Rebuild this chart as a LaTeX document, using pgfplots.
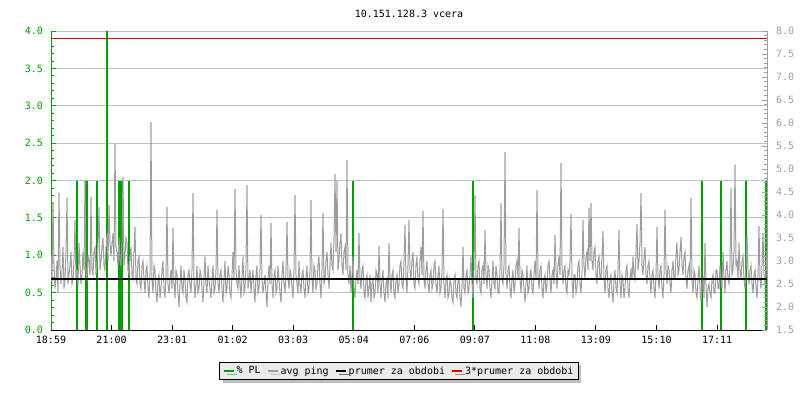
\documentclass[border=0pt]{standalone}
\usepackage{pgfplots}
\usepackage{pgfplotstable}
\pgfplotsset{compat=1.18}
\usetikzlibrary{shadows}
\usepackage{fontspec}
\setmainfont{DejaVu Sans Mono}
\definecolor{plgreen}{RGB}{0,160,0}
\definecolor{pinggray}{RGB}{158,158,158}
\definecolor{gridgray}{RGB}{192,192,192}
\definecolor{axgray}{RGB}{160,160,160}
\definecolor{avgred}{RGB}{224,0,0}
\pgfplotstableread[row sep=\\]{ping\\
3.1\\2.5\\4.28\\2.9\\2.4\\2.6\\3.0\\2.3\\4.48\\2.9\\2.5\\2.8\\3.3\\2.4\\2.6\\3.2\\4.37\\2.5\\2.7\\2.9\\
3.2\\2.5\\2.6\\3.0\\3.89\\2.6\\2.8\\2.5\\3.4\\2.9\\2.5\\2.7\\3.2\\2.8\\4.76\\2.7\\2.6\\3.1\\3.0\\2.7\\
4.39\\2.8\\2.7\\3.2\\3.3\\2.7\\2.9\\3.4\\4.17\\2.8\\3.0\\3.3\\3.5\\2.9\\2.8\\3.3\\3.6\\3.0\\4.22\\3.4\\
3.1\\3.4\\3.6\\3.0\\5.54\\3.3\\3.2\\2.9\\3.5\\3.0\\2.9\\3.4\\4.83\\2.9\\3.1\\3.5\\3.4\\2.8\\2.7\\3.1\\
3.3\\2.7\\2.6\\3.2\\3.74\\2.6\\2.5\\3.0\\3.1\\2.5\\2.4\\2.9\\3.0\\2.6\\2.3\\2.8\\2.9\\2.4\\2.2\\2.7\\
6.02\\2.6\\2.3\\2.9\\2.8\\2.3\\2.1\\2.6\\2.7\\2.2\\2.4\\2.8\\3.0\\2.4\\2.2\\2.7\\4.17\\2.5\\2.3\\2.6\\
2.8\\2.4\\3.72\\2.5\\2.2\\2.8\\2.7\\2.3\\2.0\\2.5\\2.9\\2.4\\2.3\\2.8\\2.6\\2.2\\2.1\\2.7\\2.8\\2.5\\
2.3\\2.8\\4.48\\2.6\\2.2\\2.5\\2.9\\2.3\\2.4\\2.8\\2.7\\2.4\\2.1\\2.6\\3.1\\2.5\\2.3\\2.9\\2.6\\2.4\\
2.2\\2.6\\2.9\\2.3\\2.4\\2.8\\4.11\\2.5\\2.3\\2.7\\2.8\\2.4\\2.1\\2.6\\3.0\\2.3\\2.4\\2.9\\2.7\\2.3\\
2.2\\2.7\\3.2\\2.6\\4.57\\2.8\\2.5\\2.4\\2.9\\2.5\\2.2\\2.7\\3.1\\2.3\\2.4\\2.9\\4.65\\2.4\\2.6\\2.8\\
2.3\\2.6\\2.8\\2.4\\2.1\\2.7\\2.9\\2.3\\2.4\\2.8\\4.0\\2.6\\2.3\\2.5\\2.7\\2.3\\2.0\\2.6\\2.9\\2.5\\
3.83\\2.5\\2.2\\2.7\\2.8\\2.3\\2.4\\2.9\\2.6\\2.3\\2.1\\2.7\\3.0\\2.5\\2.3\\2.8\\3.85\\2.6\\2.4\\2.8\\
2.7\\2.4\\2.2\\2.8\\4.43\\2.7\\2.5\\2.3\\3.0\\2.5\\2.3\\2.7\\2.8\\2.4\\2.2\\2.6\\2.9\\2.3\\2.4\\2.8\\
4.33\\2.6\\2.3\\2.9\\2.8\\2.4\\2.5\\2.9\\3.1\\2.5\\2.2\\2.8\\4.04\\2.5\\2.6\\3.0\\3.2\\2.7\\2.4\\2.9\\
3.4\\2.9\\2.8\\3.5\\4.89\\3.2\\4.74\\2.8\\3.0\\3.4\\3.6\\2.9\\2.7\\3.2\\3.3\\2.8\\5.2\\2.7\\2.5\\2.9\\
2.3\\2.7\\3.1\\2.4\\2.2\\2.6\\2.8\\2.5\\3.61\\2.6\\2.4\\2.8\\2.9\\2.3\\2.2\\2.6\\2.7\\2.2\\2.4\\2.7\\
2.1\\2.5\\2.6\\2.2\\2.3\\2.8\\2.7\\2.3\\3.33\\2.5\\2.2\\2.6\\2.8\\2.3\\2.1\\2.5\\2.6\\2.2\\3.39\\2.6\\
2.3\\2.7\\2.8\\2.3\\2.2\\2.6\\2.7\\2.3\\2.5\\2.9\\3.0\\2.5\\2.4\\3.0\\3.78\\2.6\\2.3\\2.9\\3.89\\2.8\\
2.6\\3.0\\3.2\\2.5\\2.4\\2.9\\3.1\\2.6\\2.5\\3.0\\3.3\\2.7\\4.09\\2.6\\2.4\\2.8\\3.0\\2.5\\2.3\\2.7\\
2.8\\2.4\\2.5\\2.9\\3.0\\2.5\\2.3\\2.7\\2.9\\2.3\\2.4\\2.8\\4.13\\2.5\\2.2\\2.6\\2.7\\2.2\\2.3\\2.6\\
2.5\\2.2\\2.1\\2.6\\2.7\\2.3\\2.2\\2.6\\2.6\\2.2\\2.0\\2.5\\3.3\\2.4\\2.3\\2.7\\2.8\\2.3\\2.4\\2.7\\
3.1\\2.5\\2.2\\2.8\\4.43\\2.6\\2.5\\2.9\\3.0\\2.4\\2.3\\2.8\\2.9\\2.5\\3.67\\2.7\\2.4\\2.9\\2.8\\2.4\\
2.2\\2.6\\3.0\\2.5\\2.4\\2.9\\2.7\\2.3\\2.3\\2.8\\4.26\\2.6\\2.5\\2.9\\5.37\\2.7\\2.4\\2.8\\2.9\\2.4\\
2.2\\2.6\\2.8\\2.3\\2.5\\2.9\\3.0\\2.6\\3.72\\2.6\\2.3\\2.8\\2.7\\2.4\\2.1\\2.5\\2.9\\2.3\\2.4\\2.7\\
2.8\\2.4\\2.3\\2.7\\3.0\\2.6\\4.54\\2.7\\2.4\\2.8\\2.9\\2.4\\2.2\\2.6\\2.7\\2.3\\2.5\\2.9\\3.0\\2.6\\
2.3\\2.7\\2.8\\2.5\\3.57\\2.8\\2.4\\2.9\\3.1\\2.7\\5.13\\2.9\\2.5\\2.8\\2.9\\2.4\\2.3\\2.8\\2.7\\3.0\\
4.02\\2.6\\2.2\\2.7\\2.7\\2.3\\2.4\\2.9\\3.0\\2.5\\2.3\\2.8\\3.89\\2.9\\2.6\\3.1\\3.2\\2.8\\4.15\\3.0\\
4.26\\3.0\\2.8\\3.2\\3.3\\2.7\\2.5\\3.0\\3.1\\2.6\\2.6\\3.1\\3.65\\2.6\\2.3\\2.8\\2.9\\2.4\\2.2\\2.6\\
2.7\\2.3\\2.1\\2.6\\2.8\\2.4\\2.3\\2.8\\3.67\\2.5\\2.2\\2.7\\2.6\\2.2\\2.4\\2.8\\2.9\\2.4\\2.2\\2.6\\
2.8\\2.6\\3.1\\2.7\\2.6\\3.2\\3.8\\2.8\\3.0\\3.4\\4.48\\2.9\\2.7\\3.1\\3.3\\2.7\\2.5\\2.9\\3.0\\2.6\\
2.3\\2.7\\2.8\\2.4\\2.2\\2.7\\3.74\\2.6\\2.4\\2.8\\2.9\\2.4\\2.2\\2.7\\4.11\\2.8\\2.5\\2.9\\2.8\\2.5\\
2.3\\2.8\\3.0\\2.6\\2.6\\3.1\\3.4\\2.7\\2.8\\3.2\\3.52\\2.9\\2.7\\3.1\\3.2\\2.6\\2.4\\2.8\\2.9\\2.6\\
4.37\\2.6\\2.3\\2.8\\2.7\\2.3\\2.2\\2.6\\2.9\\2.4\\2.1\\2.5\\2.6\\2.2\\3.39\\2.5\\2.0\\2.4\\2.5\\2.3\\
2.2\\2.6\\2.7\\2.3\\2.3\\2.8\\2.8\\2.4\\2.4\\2.9\\2.6\\2.4\\3.2\\2.7\\2.3\\2.8\\3.0\\2.6\\2.5\\2.9\\
4.59\\2.7\\2.8\\3.2\\5.1\\2.9\\3.0\\2.6\\3.4\\2.8\\2.6\\3.0\\3.1\\2.6\\2.4\\2.9\\3.54\\2.8\\2.5\\2.8\\
2.9\\2.5\\2.3\\2.7\\2.8\\2.4\\2.2\\2.7\\3.76\\2.6\\2.4\\2.9\\3.61\\2.7\\2.5\\2.8\\3.2\\
}\pingdata
\begin{document}
\begin{tikzpicture}[x=1pt,y=1pt]
\path[use as bounding box] (0,0) rectangle (800,400);
\node[font=\fontsize{10}{12}\selectfont, anchor=center] at (409,386) {10.151.128.3 vcera};
\begin{axis}[
  at={(51pt,70pt)}, anchor=south west, scale only axis,
  width=716pt, height=299pt,
  xmin=0, xmax=1432, ymin=0, ymax=4,
  axis x line*=bottom, axis y line*=left,
  axis line style={-},
  x axis line style={black, line width=1pt},
  y axis line style={plgreen, line width=1pt},
  xtick={0,121.1,242.2,363.3,484.4,605.5,726.6,847.7,968.8,1089.9,1211,1332.1},
  xticklabels={18:59,21:00,23:01,01:02,03:03,05:04,07:06,09:07,11:08,13:09,15:10,17:11},
  ytick={0,0.5,1.0,1.5,2.0,2.5,3.0,3.5,4.0},
  minor y tick num=4,
  major tick length=5pt, minor tick length=3pt,
  tick align=inside,
  xtick style={black, line width=1pt},
  ytick style={plgreen, line width=0.8pt},
  minor y tick style={plgreen, line width=0.8pt},
  ymajorgrids, major grid style={gridgray, line width=1pt},
  tick label style={font=\fontsize{10}{12}\selectfont},
  xticklabel style={yshift=-3pt, black},
  yticklabel style={xshift=-4.5pt, text=plgreen,
    /pgf/number format/.cd, fixed, fixed zerofill, precision=1, assume math mode=true},
]
\addplot[ycomb, plgreen, line width=1.6pt, mark=none] coordinates {
(52,2)(70,2)(72,2)(92,2)(112,4)(136,2)(138,2)(140,2)(142,2)(156,2)(604,2)(844,2)(1302,2)(1340,2)(1390,2)(1430,2)};
\end{axis}
\begin{axis}[
  at={(51pt,70pt)}, anchor=south west, scale only axis,
  width=716pt, height=299pt,
  xmin=0, xmax=1432, ymin=1.5, ymax=8,
  axis x line=none, axis y line*=right,
  axis line style={-, axgray, line width=1pt},
  ytick={1.5,2.0,2.5,3.0,3.5,4.0,4.5,5.0,5.5,6.0,6.5,7.0,7.5,8.0},
  minor y tick num=4,
  major tick length=5pt, minor tick length=3pt,
  tick align=inside,
  ytick style={axgray, line width=0.8pt},
  minor y tick style={axgray, line width=0.8pt},
  tick label style={font=\fontsize{10}{12}\selectfont},
  yticklabel style={xshift=5.5pt, text=axgray,
    /pgf/number format/.cd, fixed, fixed zerofill, precision=1, assume math mode=true},
  legend columns=4,
  legend image code/.code={\draw[#1, line width=2pt] (0pt,0pt) -- (10pt,0pt);},
  legend style={at={(0.486,-0.137)}, anchor=center, draw=black, line width=0.8pt,
    fill=black!8, font=\fontsize{10}{12}\selectfont,
    drop shadow={shadow xshift=3pt, shadow yshift=-3pt, fill=black!50},
    inner xsep=3pt, inner ysep=2pt,
    /tikz/every even column/.append style={column sep=4pt},
    /tikz/every odd column/.append style={column sep=0pt}},
]
\addplot[pinggray, line width=1pt, mark=none, forget plot] table[x expr=\coordindex*2, y=ping] {\pingdata};
\addplot[black, line width=2pt, mark=none, forget plot] coordinates {(0,2.61)(1432,2.61)};
\addplot[avgred, line width=1.2pt, mark=none, forget plot] coordinates {(0,7.83)(1432,7.83)};
\addlegendimage{plgreen}
\addlegendentry{\% PL}
\addlegendimage{pinggray}
\addlegendentry{avg ping}
\addlegendimage{black}
\addlegendentry{prumer za obdobi}
\addlegendimage{avgred}
\addlegendentry{3*prumer za obdobi}
\end{axis}
\end{tikzpicture}
\end{document}
